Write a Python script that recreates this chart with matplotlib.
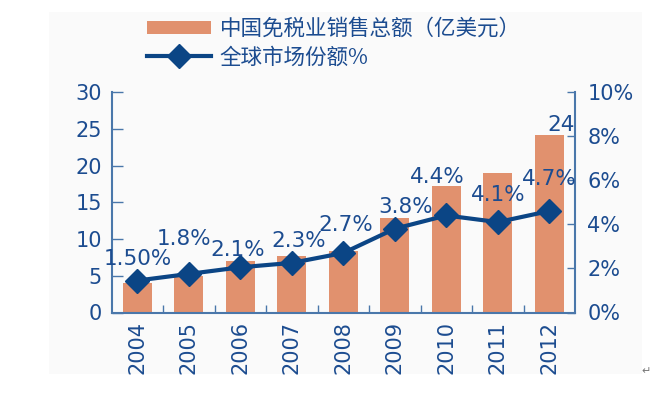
import matplotlib
matplotlib.use("Agg")
import matplotlib.pyplot as plt
from matplotlib.patches import Rectangle
from matplotlib.lines import Line2D
import numpy as np

plt.rcParams['font.family'] = ['DejaVu Sans', 'Noto Sans CJK SC']

years = ['2004', '2005', '2006', '2007', '2008', '2009', '2010', '2011', '2012']
sales = [4.0, 5.0, 7.05, 7.75, 8.4, 12.8, 17.2, 18.95, 24.2]
share = [1.45, 1.75, 2.05, 2.25, 2.7, 3.8, 4.4, 4.1, 4.6]
share_labels = ['1.50%', '1.8%', '2.1%', '2.3%', '2.7%', '3.8%', '4.4%', '4.1%', '4.7%']
last_bar_label = '24'
left_ticks = [0, 5, 10, 15, 20, 25, 30]
right_ticks = [0, 2, 4, 6, 8, 10]
legend_bar = '中国免税业销售总额（亿美元）'
legend_line = '全球市场份额%'

# label offsets in pixels (dx, dy) relative to each diamond
label_offsets = [(0, 22), (-5, 35), (-3, 17), (7, 22), (2, 28), (11, 22), (-9, 38), (0, 27), (0, 32)]

BAR = '#E1916E'
LINE = '#0B4585'
TXT = '#1C4C90'
SPINE = '#4A77AA'

fig = plt.figure(figsize=(6.57, 3.98), dpi=100)
fig.patches.append(Rectangle((49 / 657, 1 - 374 / 398), (642 - 49) / 657, (374 - 12) / 398,
                             transform=fig.transFigure, facecolor='#FAFAFA', edgecolor='none', zorder=-5))

ax = fig.add_axes([111.7 / 657, 1 - 312.5 / 398, (575 - 111.7) / 657, (312.5 - 92) / 398])
ax.patch.set_alpha(0)
ax2 = ax.twinx()
ax2.patch.set_alpha(0)

x = np.arange(len(years))
ax.bar(x, sales, width=0.565, color=BAR, zorder=2)
ax.set_xlim(-0.5, 8.5)
ax.set_ylim(0, 30)
ax.set_yticks(left_ticks)
ax.set_yticklabels([str(t) for t in left_ticks])

ax2.plot(x, share, color=LINE, lw=3, marker='D', markersize=12, zorder=5)
ax2.set_ylim(0, 10)
ax2.set_yticks(right_ticks)
ax2.set_yticklabels([f'{t}%' for t in right_ticks])

ax.set_xticks(x)
ax.set_xticklabels(years, rotation=90)
ax.set_xticks(np.arange(0.5, 8.5, 1), minor=True)
ax.tick_params(axis='x', which='major', length=0, pad=6, labelsize=15, labelcolor=TXT)
ax.tick_params(axis='x', which='minor', direction='in', length=6, width=1, color=SPINE)
ax.tick_params(axis='y', direction='in', length=8, width=1, color=SPINE, pad=7,
               labelsize=15, labelcolor=TXT)
ax2.tick_params(axis='y', direction='in', length=6, width=1, color=SPINE, pad=9,
                labelsize=15, labelcolor=TXT)

for a in (ax, ax2):
    a.spines['top'].set_visible(False)
    for s in ('left', 'right', 'bottom'):
        a.spines[s].set_color(SPINE)
        a.spines[s].set_linewidth(1.5)
ax.spines['right'].set_visible(False)
ax2.spines['left'].set_visible(False)
ax2.spines['bottom'].set_visible(False)

for i, (v, lab) in enumerate(zip(share, share_labels)):
    dx, dy = label_offsets[i]
    ax2.annotate(lab, (x[i], v), xytext=(dx * 0.72, dy * 0.72), textcoords='offset points',
                 ha='center', va='center', fontsize=15.5, color=TXT, zorder=6)

ax.annotate(last_bar_label, (x[-1], sales[-1]), xytext=(12 * 0.72, 9.5 * 0.72),
            textcoords='offset points', ha='center', va='center', fontsize=15.5, color=TXT, zorder=6)

handles = [Rectangle((0, 0), 1, 1, facecolor=BAR, edgecolor='none'),
           Line2D([], [], color=LINE, lw=3, marker='D', markersize=12)]
leg = fig.legend(handles, [legend_bar, legend_line], loc='upper left',
                 bbox_to_anchor=(146.7 / 657, 1 - 18 / 398), frameon=False,
                 prop={'family': ['Noto Sans CJK SC', 'DejaVu Sans'], 'size': 15.5},
                 handlelength=3.0, handleheight=0.55, handletextpad=0.4,
                 labelspacing=0.3, borderpad=0, borderaxespad=0)
for t in leg.get_texts():
    t.set_color(TXT)

fig.text(646 / 657, 1 - 371 / 398, '↵', fontsize=8, color='#777777', ha='center', va='center')

fig.savefig('out.png', dpi=100)
